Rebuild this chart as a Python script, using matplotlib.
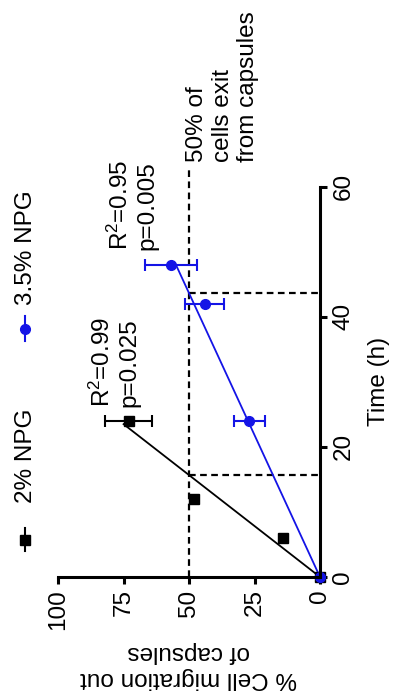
import matplotlib.pyplot as plt
import numpy as np

plt.rcParams['font.family'] = ['Liberation Sans', 'DejaVu Sans']
plt.rcParams['mathtext.fontset'] = 'custom'
plt.rcParams['mathtext.rm'] = 'Liberation Sans'
plt.rcParams['mathtext.it'] = 'Liberation Sans'

# 2% NPG: time (h), % migrated, error
time_2 = np.array([0, 6, 12, 24])
mig_2 = np.array([0, 14, 48, 73])
err_2 = np.array([0, 0, 0, 9])

# 3.5% NPG
time_35 = np.array([0, 24, 42, 48])
mig_35 = np.array([0, 27, 44, 57])
err_35 = np.array([0, 6, 7.5, 10])

# regression lines (end points)
fit_2_t = [0, 23.5]
fit_2_y = [0, 75]
fit_35_t = [0, 48]
fit_35_y = [0, 55]

# time where each fit reaches 50 %
half_2 = 15.7
half_35 = 43.7

BLUE = '#1414e6'
FS = 17.5

fig = plt.figure(figsize=(3.98, 6.98), dpi=100)
ax = fig.add_axes([0.146, 0.1734, 0.658, 0.559])

# the figure is turned a quarter turn: time runs upward, % runs right to left
ax.set_xlim(100, 0)
ax.set_ylim(0, 60)

# reference dashed lines
dash = dict(color='black', lw=1.6, ls=(0, (3, 2)), clip_on=False)
ax.plot([50, 50], [0, 63], **dash)
ax.plot([50, 0], [half_2, half_2], **dash)
ax.plot([50, 0], [half_35, half_35], **dash)

# fit lines
ax.plot(fit_2_y, fit_2_t, color='black', lw=1.3)
ax.plot(fit_35_y, fit_35_t, color=BLUE, lw=1.3)

# points + error bars
m = err_2 > 0
ax.errorbar(mig_2[m], time_2[m], xerr=err_2[m], fmt='none', ecolor='black',
            elinewidth=1.5, capsize=4, capthick=1.5)
ax.plot(mig_2, time_2, 's', color='black', ms=7, clip_on=False)
m = err_35 > 0
ax.errorbar(mig_35[m], time_35[m], xerr=err_35[m], fmt='none', ecolor=BLUE,
            elinewidth=1.5, capsize=4, capthick=1.5)
ax.plot(mig_35, time_35, 'o', color=BLUE, ms=7, clip_on=False)

# annotations
ax.text(88, 26.2, 'R$^2$=0.99\np=0.025', rotation=90, ha='left', va='bottom', fontsize=FS)
ax.text(81, 50.3, 'R$^2$=0.95\np=0.005', rotation=90, ha='left', va='bottom', fontsize=FS)
ax.text(51, 63.8, '50% of\ncells exit\nfrom capsules', rotation=90, ha='left', va='bottom',
        fontsize=FS, clip_on=False)

# axes styling
for s in ['left', 'top']:
    ax.spines[s].set_visible(False)
for s in ['bottom', 'right']:
    ax.spines[s].set_linewidth(2.2)
ax.yaxis.tick_right()
ax.yaxis.set_label_position('right')
ax.set_xticks([0, 25, 50, 75, 100])
ax.set_xticklabels(['0', '25', '50', '75', '100'], rotation=90, fontsize=FS)
ax.set_yticks([0, 20, 40, 60])
ax.set_yticklabels(['0', '20', '40', '60'], rotation=90, va='center', fontsize=FS)
ax.tick_params(width=2.2, length=5, pad=4)
ax.set_xlabel('% Cell migration out\nof capsules', rotation=180, fontsize=FS, labelpad=8)
ax.set_ylabel('Time (h)', rotation=90, fontsize=FS, labelpad=10)

# legend, drawn by hand because it is turned too
tr = ax.transAxes
ax.plot([-0.126, -0.126], [0.067, 0.126], color='black', lw=1.5, transform=tr, clip_on=False)
ax.plot([-0.126], [0.095], 's', color='black', ms=7, transform=tr, clip_on=False)
ax.text(-0.122, 0.19, '2% NPG', rotation=90, ha='center', va='bottom', fontsize=FS, transform=tr)
ax.plot([-0.126, -0.126], [0.605, 0.668], color=BLUE, lw=1.5, transform=tr, clip_on=False)
ax.plot([-0.126], [0.636], 'o', color=BLUE, ms=7, transform=tr, clip_on=False)
ax.text(-0.122, 0.697, '3.5% NPG', rotation=90, ha='center', va='bottom', fontsize=FS, transform=tr)

fig.savefig('out.png', dpi=100)
